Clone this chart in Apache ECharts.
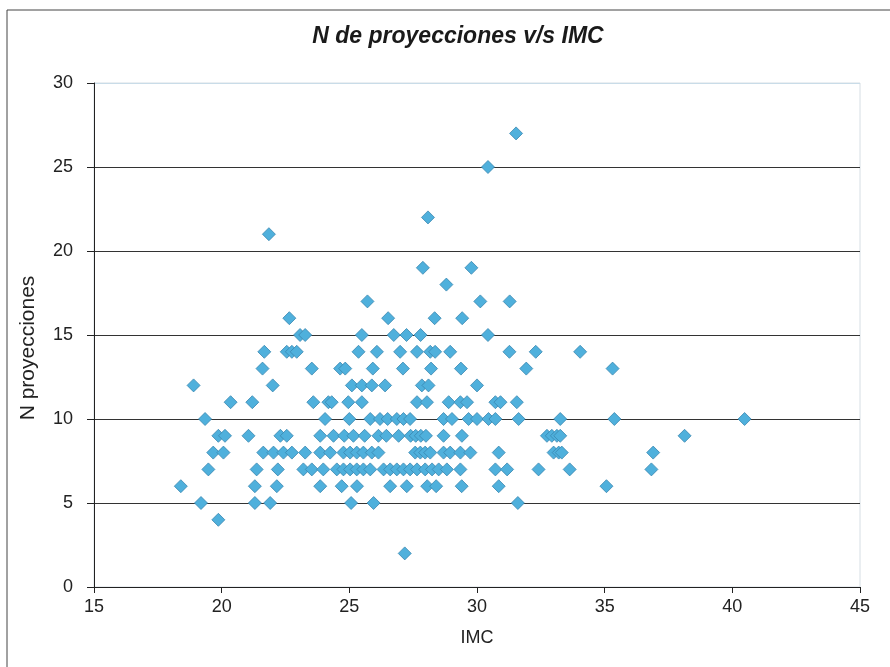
<!DOCTYPE html>
<html>
<head>
<meta charset="utf-8">
<script src="https://cdn.jsdelivr.net/npm/echarts@6/dist/echarts.min.js"></script>
<style>
html,body{margin:0;padding:0;background:#fff;}
#chart{width:890px;height:667px;}
</style>
</head>
<body>
<div id="chart"></div>
<script>
// Chart texts
const chartTitle = 'N de proyecciones v/s IMC';
const xAxisName = 'IMC';
const yAxisName = 'N proyecciones';

// Axis ranges / ticks
const xTicks = [15, 20, 25, 30, 35, 40, 45];
const yTicks = [0, 5, 10, 15, 20, 25, 30];

// IMC values of the points, grouped by their N proyecciones value
const levels = [2, 4, 5, 6, 7, 8, 9, 10, 11, 12, 13, 14, 15, 16, 17, 18, 19, 21, 22, 25, 27];
const imcN2  = [27.17];
const imcN4  = [19.87];
const imcN5  = [19.19, 21.3, 21.9, 25.07, 25.95, 31.6];
const imcN6  = [18.4, 21.3, 22.16, 23.86, 24.7, 25.3, 26.6, 27.25, 28.05, 28.4, 29.4, 30.85, 35.07];
const imcN7  = [19.48, 21.37, 22.2, 23.2, 23.53, 23.98, 24.51, 24.77, 25.03, 25.29, 25.55, 25.82,
                26.34, 26.6, 26.86, 27.12, 27.38, 27.65, 27.97, 28.24, 28.5, 28.82, 29.35, 30.72,
                31.18, 32.41, 33.63, 36.83];
const imcN8  = [19.67, 20.07, 21.63, 22.03, 22.42, 22.75, 23.27, 23.86, 24.25, 24.77, 25.03, 25.29,
                25.55, 25.88, 26.14, 27.58, 27.78, 27.97, 28.17, 28.69, 28.95, 29.35, 29.74, 30.85,
                33.0, 33.2, 33.32, 36.9];
const imcN9  = [19.87, 20.13, 21.05, 22.3, 22.55, 23.86, 24.38, 24.8, 25.16, 25.6, 26.14, 26.45,
                26.93, 27.4, 27.6, 27.8, 28.0, 28.69, 29.41, 32.74, 32.93, 33.13, 33.26, 38.13];
const imcN10 = [19.35, 24.05, 25.0, 25.82, 26.2, 26.5, 26.86, 27.12, 27.38, 28.69, 29.02, 29.67,
                30.0, 30.45, 30.72, 31.63, 33.26, 35.38, 40.48];
const imcN11 = [20.35, 21.2, 23.59, 24.18, 24.31, 24.96, 25.49, 27.65, 28.04, 28.89, 29.35, 29.61,
                30.72, 30.92, 31.56];
const imcN12 = [18.9, 22.0, 25.1, 25.49, 25.88, 26.4, 27.84, 28.1, 30.0];
const imcN13 = [21.6, 23.53, 24.64, 24.84, 25.92, 27.1, 28.2, 29.37, 31.93, 35.31];
const imcN14 = [21.67, 22.55, 22.75, 22.94, 25.36, 26.08, 26.99, 27.65, 28.17, 28.36, 28.95, 31.27,
                32.3, 34.04];
const imcN15 = [23.07, 23.27, 25.49, 26.74, 27.24, 27.79, 30.43];
const imcN16 = [22.65, 26.52, 28.34, 29.42];
const imcN17 = [25.71, 30.13, 31.28];
const imcN18 = [28.8];
const imcN19 = [27.88, 29.78];
const imcN21 = [21.85];
const imcN22 = [28.08];
const imcN25 = [30.43];
const imcN27 = [31.53];

const groups = [imcN2, imcN4, imcN5, imcN6, imcN7, imcN8, imcN9, imcN10, imcN11, imcN12, imcN13,
                imcN14, imcN15, imcN16, imcN17, imcN18, imcN19, imcN21, imcN22, imcN25, imcN27];

const points = [];
groups.forEach((arr, i) => arr.forEach(x => points.push([x, levels[i]])));

const FONT = '"Liberation Sans", Arial, sans-serif';
const chart = echarts.init(document.getElementById('chart'));
chart.setOption({
  animation: false,
  backgroundColor: '#fff',
  title: {
    text: chartTitle,
    left: 453, top: 20, textAlign: 'center',
    textStyle: { fontFamily: FONT, fontSize: 23, fontWeight: 'bold', fontStyle: 'italic', color: '#1a1a1a' }
  },
  graphic: [{
    type: 'rect',
    shape: { x: 7, y: 10, width: 920, height: 700 },
    style: { fill: 'none', stroke: '#444', lineWidth: 1 },
    silent: true
  }, {
    type: 'text',
    x: 28, y: 348,
    rotation: Math.PI / 2,
    style: {
      text: yAxisName, fontFamily: FONT, fontSize: 21, fill: '#222',
      align: 'center', verticalAlign: 'middle'
    },
    silent: true
  }],
  grid: {
    left: 94, right: 30, top: 83, bottom: 80,
    show: true, borderColor: '#d6dee4', borderWidth: 1, backgroundColor: 'transparent'
  },
  xAxis: {
    type: 'value', min: xTicks[0], max: xTicks[xTicks.length - 1], interval: 5,
    name: xAxisName, nameLocation: 'middle', nameGap: 42,
    nameTextStyle: { fontFamily: FONT, fontSize: 18, color: '#222' },
    axisLine: { show: true, lineStyle: { color: '#222', width: 1 } },
    axisTick: { show: true, inside: false, length: 6, lineStyle: { color: '#222' } },
    axisLabel: { fontFamily: FONT, fontSize: 18, color: '#222', margin: 11 },
    splitLine: { show: false }
  },
  yAxis: {
    type: 'value', min: yTicks[0], max: yTicks[yTicks.length - 1], interval: 5,
    axisLine: { show: true, lineStyle: { color: '#222', width: 1 } },
    axisTick: { show: true, inside: false, length: 7, lineStyle: { color: '#222' } },
    axisLabel: { fontFamily: FONT, fontSize: 18, color: '#222', margin: 21 },
    splitLine: { show: true, lineStyle: { color: ['#333', '#333', '#333', '#333', '#333', '#333', '#c9dce8'], width: 1 } }
  },
  series: [{
    type: 'scatter',
    data: points,
    symbol: 'diamond',
    symbolSize: [13, 13],
    itemStyle: { color: '#4fb0dc', borderColor: '#3a86b0', borderWidth: 0.8, opacity: 1 }
  }]
});
</script>
</body>
</html>
